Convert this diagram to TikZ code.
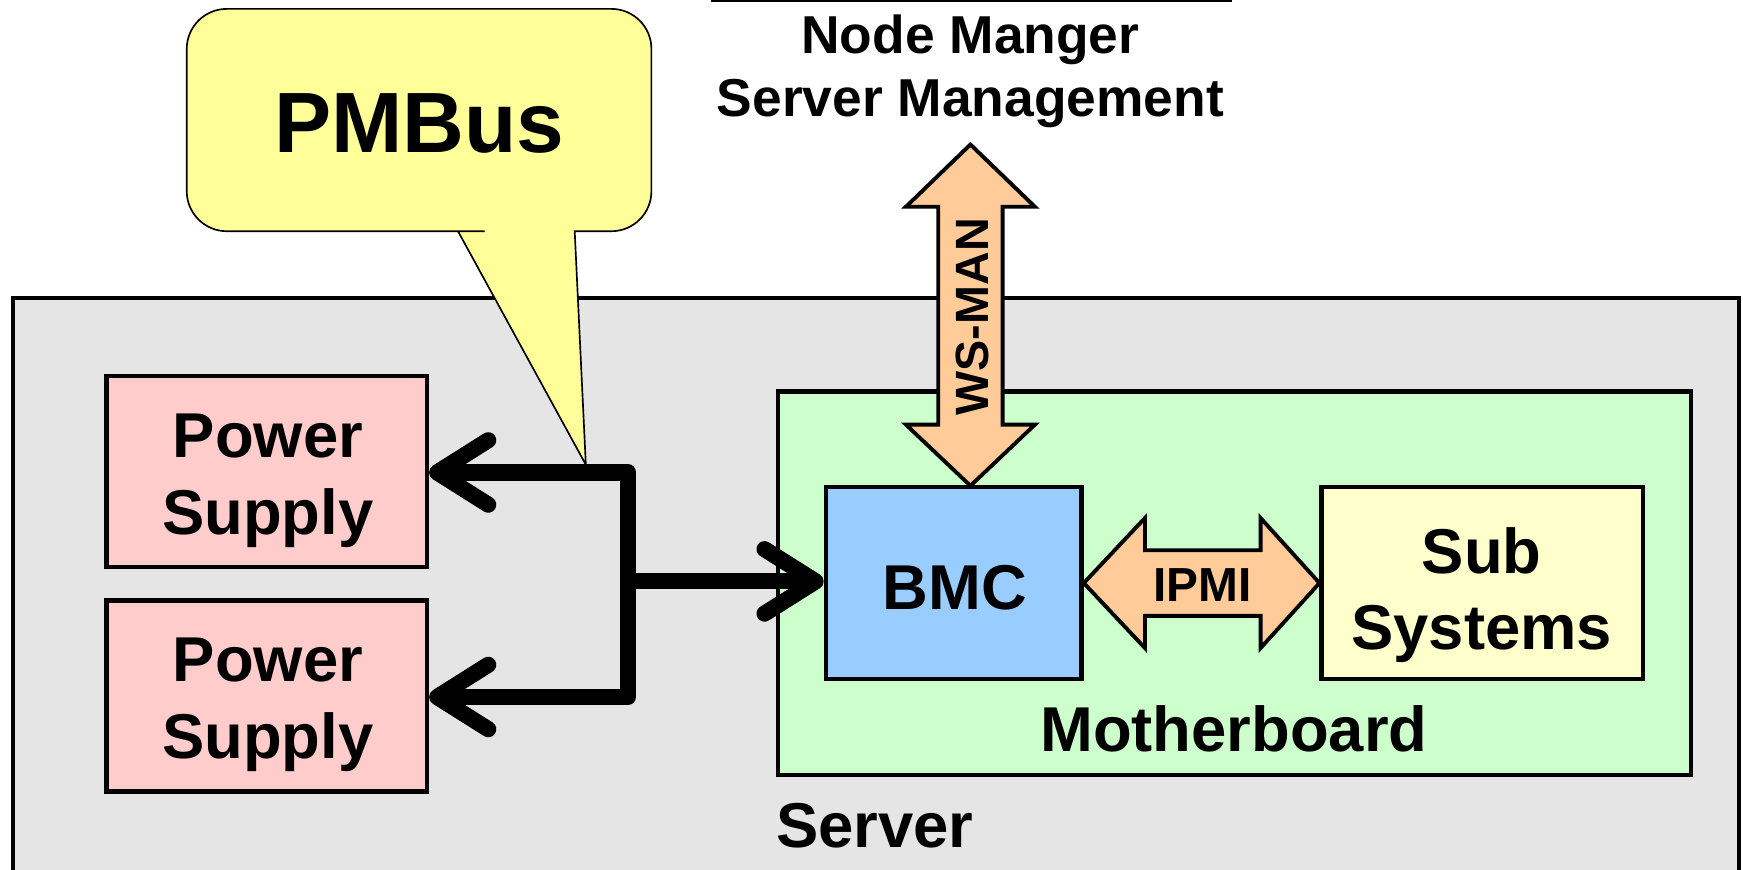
\documentclass[tikz,border=0pt]{standalone}
\usepackage{fontspec}
\setmainfont{Liberation Sans}
\usetikzlibrary{arrows.meta,calc}
\definecolor{servergray}{HTML}{E5E5E5}
\definecolor{psred}{HTML}{FFCCCC}
\definecolor{mbgreen}{HTML}{CCFFCC}
\definecolor{bmcblue}{HTML}{99CCFF}
\definecolor{subyellow}{HTML}{FFFFCC}
\definecolor{arrowfill}{HTML}{FFCC99}
\definecolor{bubbleyellow}{HTML}{FFFF99}
\begin{document}
\begin{tikzpicture}[x=1pt,y=-1pt,
  box/.style={draw, line width=4pt, inner sep=0pt},
  txt/.style={inner sep=0pt, font=\bfseries\fontsize{57}{69}\selectfont, align=center},
  bus/.style={line width=14.5pt, line join=round},
  fatarrow/.style={draw, line width=3.5pt, fill=arrowfill, line join=miter},
  >={Straight Barb[length=46pt,width=58pt,round]}]
\fill[white] (0,0) rectangle (1568,782);
\clip (0,0) rectangle (1568,782);
% top rule
\draw[line width=2pt] (640,1) -- (1108,1);
% header text
\node[txt, font=\bfseries\fontsize{48}{57}\selectfont, anchor=base] (nm1) at (873,48) {Node Manger};
\node[txt, font=\bfseries\fontsize{48}{57}\selectfont, anchor=base] (nm2) at (873,105) {Server Management};
% server box
\node[box, line width=3.5pt, fill=servergray, anchor=north west, minimum width=1553pt, minimum height=600pt] (server) at (10,266) {};
\node[txt, anchor=base west] (serverlbl) at (698,762) {Server};
% bubble
\draw[line width=1.5pt, fill=bubbleyellow, line join=miter]
  (412,208) -- (527,418) -- (517,208) -- (530,208)
  [rounded corners=36pt] -- (586,208) -- (586,8) -- (168,8) -- (168,208) -- (400,208)
  [sharp corners] -- cycle;
\node[txt, font=\bfseries\fontsize{77}{90}\selectfont, anchor=base] (pmbus) at (377,137) {PMBus};
% power supplies
\node[box, fill=psred, minimum width=288pt, minimum height=172pt] (ps1) at (240,424) {};
\node[box, fill=psred, minimum width=288pt, minimum height=172pt] (ps2) at (240,626) {};
\node[txt, anchor=north] (ps1lbl) at (241,372) {Power\\Supply};
\node[txt, anchor=north] (ps2lbl) at (241,574) {Power\\Supply};
% motherboard
\node[box, fill=mbgreen, minimum width=821pt, minimum height=345pt] (mb) at (1110.5,524.5) {};
\node[txt, anchor=base] (mblbl) at (1110,676) {Motherboard};
\node[box, fill=bmcblue, minimum width=230pt, minimum height=173pt] (bmc) at (858,524.5) {};
\node[txt, anchor=base] (bmclbl) at (859,548) {BMC};
\node[box, fill=subyellow, minimum width=289pt, minimum height=173pt] (sub) at (1333.5,524.5) {};
\node[txt, anchor=north] (sublbl) at (1333,474) {Sub\\Systems};
% bus
\coordinate (ja) at (565,425);
\coordinate (jb) at (565,627);
\coordinate (jm) at (565,523);
\draw[bus,<->] (ps1.east |- ja) -- (ja) -- (jb) -- (ps2.east |- jb);
\draw[bus,->] (jm) -- (bmc.west |- jm);
% IPMI double arrow
\draw[fatarrow] (bmc.east) -- (1030,466) -- (1030,495) -- (1134,495) -- (1134,466) -- (sub.west)
  -- (1134,583) -- (1134,554) -- (1030,554) -- (1030,583) -- cycle;
\node[txt, font=\bfseries\fontsize{43}{52}\selectfont, anchor=base] (ipmi) at (1082,541) {IPMI};
% WS-MAN double arrow
\coordinate (wstop) at (873,130);
\coordinate (wsbot) at (873,437);
\draw[fatarrow] (wstop) -- (931,186) -- (902,186) -- (902,382) -- (931,382) -- (wsbot)
  -- (815,382) -- (844,382) -- (844,186) -- (815,186) -- cycle;
\node[txt, font=\bfseries\fontsize{42}{50}\selectfont, rotate=90] (wsman) at (875,285) {WS-MAN};
\end{tikzpicture}
\end{document}
